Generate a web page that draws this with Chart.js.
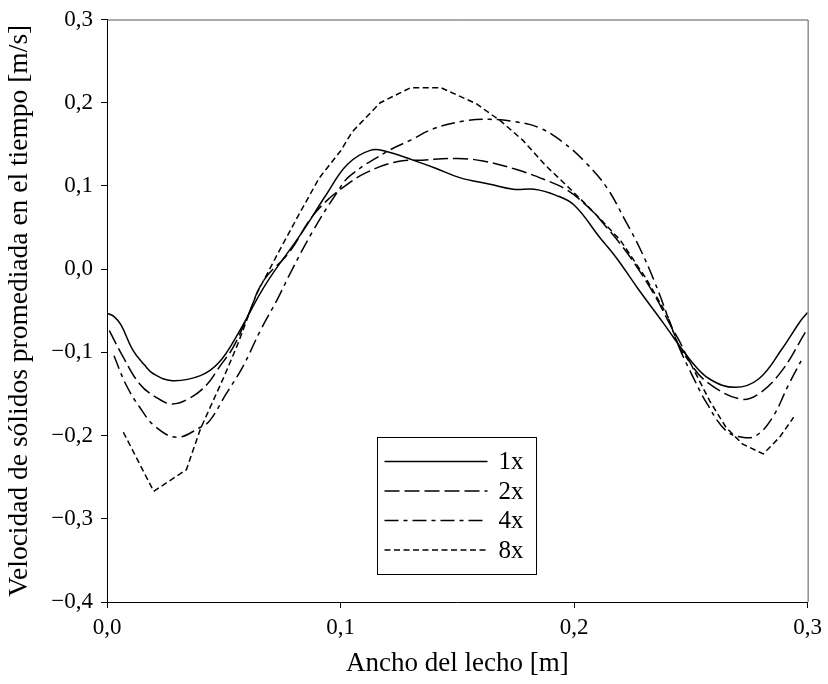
<!DOCTYPE html>
<html>
<head>
<meta charset="utf-8">
<script src="https://cdn.jsdelivr.net/npm/chart.js@4.4.1/dist/chart.umd.min.js"></script>
<style>
  body { margin: 0; background: #fff; }
  canvas { display: block; }
</style>
</head>
<body>
<canvas id="myChart" width="828" height="684"></canvas>
<script>
// datos (x = ancho del lecho [m], y = velocidad [m/s])
var xs1 = [0.000, 0.003, 0.006, 0.011, 0.016, 0.020, 0.028, 0.040, 0.048, 0.056, 0.068, 0.083, 0.094, 0.103, 0.113, 0.120, 0.131, 0.141, 0.151, 0.164, 0.174, 0.183, 0.192, 0.200, 0.211, 0.218, 0.227, 0.238, 0.250, 0.258, 0.269, 0.279, 0.289, 0.297, 0.300];
var ys1 = [-0.053, -0.057, -0.067, -0.097, -0.115, -0.126, -0.134, -0.128, -0.112, -0.078, -0.018, 0.042, 0.090, 0.126, 0.143, 0.141, 0.131, 0.121, 0.110, 0.102, 0.096, 0.096, 0.089, 0.077, 0.038, 0.014, -0.022, -0.064, -0.110, -0.132, -0.142, -0.132, -0.096, -0.062, -0.052];

var xs2 = [0.001, 0.007, 0.014, 0.021, 0.028, 0.036, 0.043, 0.048, 0.054, 0.060, 0.067, 0.078, 0.087, 0.094, 0.102, 0.111, 0.124, 0.135, 0.150, 0.161, 0.175, 0.187, 0.197, 0.207, 0.214, 0.221, 0.228, 0.235, 0.241, 0.245, 0.251, 0.258, 0.271, 0.279, 0.289, 0.299];
var ys2 = [-0.074, -0.106, -0.138, -0.154, -0.162, -0.154, -0.138, -0.118, -0.094, -0.058, -0.014, 0.020, 0.060, 0.082, 0.100, 0.116, 0.129, 0.131, 0.133, 0.130, 0.120, 0.108, 0.095, 0.072, 0.050, 0.026, -0.002, -0.034, -0.066, -0.086, -0.118, -0.138, -0.156, -0.150, -0.122, -0.076];

var xs4 = [0.003, 0.008, 0.014, 0.021, 0.030, 0.040, 0.044, 0.051, 0.058, 0.066, 0.073, 0.079, 0.088, 0.098, 0.104, 0.121, 0.130, 0.140, 0.153, 0.164, 0.175, 0.185, 0.195, 0.205, 0.214, 0.222, 0.228, 0.234, 0.240, 0.245, 0.251, 0.257, 0.265, 0.272, 0.278, 0.285, 0.292, 0.298];
var ys4 = [-0.104, -0.138, -0.166, -0.190, -0.202, -0.190, -0.182, -0.150, -0.118, -0.072, -0.036, -0.002, 0.045, 0.090, 0.112, 0.143, 0.155, 0.169, 0.178, 0.180, 0.177, 0.170, 0.153, 0.128, 0.098, 0.058, 0.026, -0.012, -0.056, -0.094, -0.130, -0.162, -0.194, -0.202, -0.200, -0.178, -0.138, -0.106];

var xs8 = [0.007, 0.020, 0.034, 0.040, 0.050, 0.056, 0.064, 0.073, 0.083, 0.091, 0.100, 0.105, 0.117, 0.130, 0.143, 0.158, 0.169, 0.178, 0.188, 0.197, 0.205, 0.212, 0.220, 0.231, 0.240, 0.245, 0.250, 0.258, 0.265, 0.272, 0.281, 0.288, 0.294];
var ys8 = [-0.196, -0.267, -0.241, -0.192, -0.130, -0.090, -0.030, 0.018, 0.070, 0.110, 0.142, 0.165, 0.200, 0.218, 0.218, 0.199, 0.177, 0.155, 0.124, 0.100, 0.078, 0.058, 0.034, -0.012, -0.056, -0.094, -0.114, -0.158, -0.190, -0.210, -0.222, -0.202, -0.178];

var labels = ['1x', '2x', '4x', '8x'];
var xTicks = [0, 0.1, 0.2, 0.3];
var yTicks = [-0.4, -0.3, -0.2, -0.1, 0, 0.1, 0.2, 0.3];

function pts(xs, ys) {
  var out = [];
  for (var i = 0; i < xs.length; i++) out.push({x: xs[i], y: ys[i]});
  return out;
}

function fmt(v) {
  if (Math.abs(v) < 1e-9) v = 0;
  return v.toFixed(1).replace('.', ',').replace('-', '\u2212');
}

var serif = "'Liberation Serif', 'DejaVu Serif', serif";

function serie(label, xs, ys, dash, tension) {
  return {
    label: label,
    data: pts(xs, ys),
    borderColor: '#000',
    backgroundColor: '#000',
    borderWidth: 1.5,
    borderDash: dash,
    pointRadius: 0,
    tension: tension,
    fill: false
  };
}

var dataset = [
  serie(labels[0], xs1, ys1, [], 0.4),
  serie(labels[1], xs2, ys2, [15, 5], 0.4),
  serie(labels[2], xs4, ys4, [14, 5, 4, 5], 0.4),
  serie(labels[3], xs8, ys8, [6, 3.5], 0)
];

// marco superior/derecho y leyenda dentro del grafico
var extras = {
  id: 'extras',
  afterDraw: function(chart) {
    var c = chart.ctx, a = chart.chartArea;
    var w = a.right - a.left, h = a.bottom - a.top;
    c.save();
    c.strokeStyle = '#555';
    c.lineWidth = 1;
    c.beginPath();
    c.moveTo(a.left, a.top + 0.5);
    c.lineTo(a.right + 0.5, a.top + 0.5);
    c.lineTo(a.right + 0.5, a.bottom);
    c.stroke();

    var bx = Math.round(a.left + w * 0.385) + 0.5;
    var by = Math.round(a.top + h * 0.716) + 0.5;
    var bw = Math.round(w * 0.227), bh = Math.round(h * 0.236);
    c.fillStyle = '#fff';
    c.fillRect(bx, by, bw, bh);
    c.strokeStyle = '#000';
    c.strokeRect(bx, by, bw, bh);
    c.font = '25px ' + serif;
    c.textBaseline = 'middle';
    c.fillStyle = '#000';
    for (var i = 0; i < dataset.length; i++) {
      var yy = by + 24 + i * 29.5;
      c.setLineDash(dataset[i].borderDash);
      c.lineWidth = 1.5;
      c.beginPath();
      c.moveTo(bx + 7, yy);
      c.lineTo(bx + 110, yy);
      c.stroke();
      c.setLineDash([]);
      c.fillText(dataset[i].label, bx + 121, yy + 1);
    }
    c.restore();
  }
};

var ctx = document.getElementById('myChart').getContext('2d');
var myChart = new Chart(ctx, {
  type: 'line',
  data: { datasets: dataset },
  plugins: [extras],
  options: {
    responsive: false,
    animation: false,
    layout: { padding: { top: 18, right: 20, left: 0, bottom: 0 } },
    plugins: { legend: { display: false }, tooltip: { enabled: false } },
    scales: {
      x: {
        type: 'linear',
        min: 0, max: 0.3,
        afterFit: function(s) { s.height = 82; },
        afterBuildTicks: function(s) { s.ticks = xTicks.map(function(v) { return {value: v}; }); },
        ticks: { color: '#000', font: { family: serif, size: 23 }, padding: 6, maxRotation: 0,
                 callback: function(v) { return fmt(v); } },
        grid: { drawOnChartArea: false, drawTicks: true, tickLength: 6, color: '#000' },
        border: { color: '#000', width: 1 },
        title: { display: true, text: 'Ancho del lecho [m]', color: '#000',
                 font: { family: serif, size: 27 }, padding: { top: 2, bottom: 4 } }
      },
      y: {
        min: -0.4, max: 0.3,
        afterFit: function(s) { s.width = 107; },
        afterBuildTicks: function(s) { s.ticks = yTicks.map(function(v) { return {value: v}; }); },
        ticks: { color: '#000', font: { family: serif, size: 23, lineHeight: 1 }, padding: 8,
                 callback: function(v) { return fmt(v); } },
        grid: { drawOnChartArea: false, drawTicks: true, tickLength: 6, color: '#000' },
        border: { color: '#000', width: 1 },
        title: { display: true, text: 'Velocidad de sólidos promediada en el tiempo [m/s]', color: '#000',
                 font: { family: serif, size: 27.5 }, padding: { top: 3, bottom: 4 } }
      }
    }
  }
});
</script>
</body>
</html>
